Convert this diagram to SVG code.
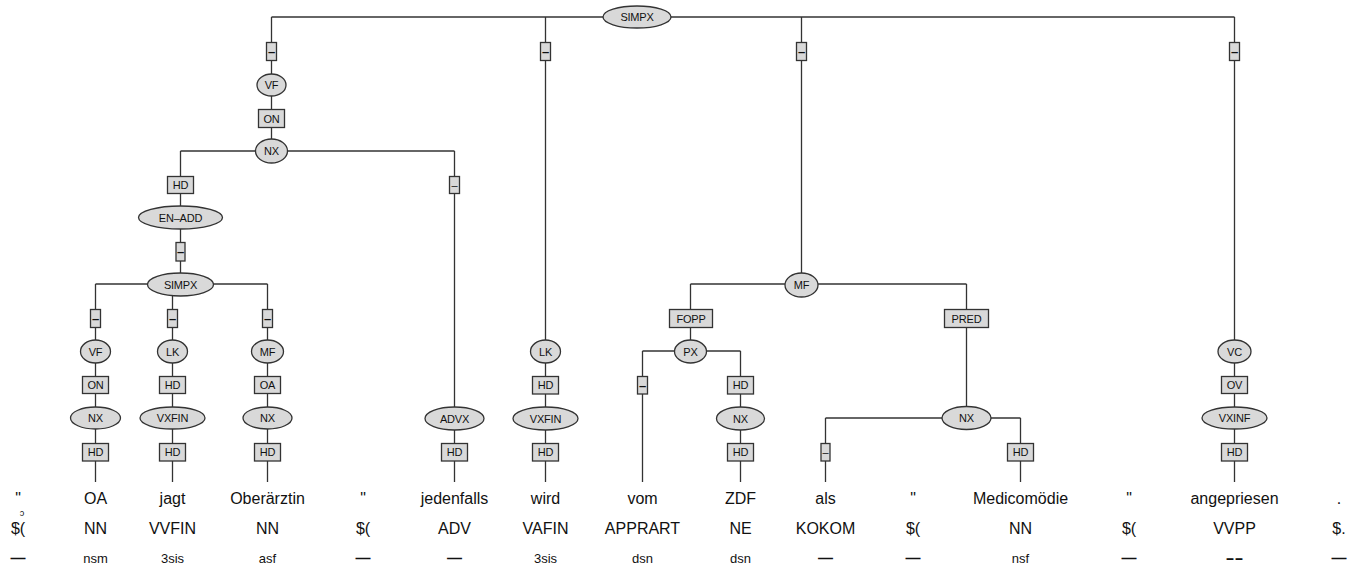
<svg xmlns="http://www.w3.org/2000/svg" width="1358" height="567" viewBox="0 0 1358 567">
<style>
.c{fill:none;stroke:#333;stroke-width:1.3}
.s{fill:#d9d9d9;stroke:#333;stroke-width:1.3}
.t{font-family:"Liberation Sans",Arial,sans-serif;font-size:11px;text-anchor:middle;fill:#111;letter-spacing:-0.2px}
.d{font-family:"Liberation Sans",Arial,sans-serif;font-size:13px;font-weight:bold;text-anchor:middle;fill:#111}
.w{font-family:"Liberation Sans",Arial,sans-serif;font-size:16px;text-anchor:middle;fill:#111}
.m{font-family:"Liberation Sans",Arial,sans-serif;font-size:13px;text-anchor:middle;fill:#111}
.em{font-family:"Liberation Sans",Arial,sans-serif;font-size:15px;font-weight:bold;text-anchor:middle;fill:#111}
</style>
<rect width="1358" height="567" fill="#fff"/>
<g id="connectors">
<path class="c" d="M271.5 17H1234.5"/>
<path class="c" d="M271.5 17V151"/>
<path class="c" d="M180.5 151H454.5"/>
<path class="c" d="M180.5 151V284"/>
<path class="c" d="M95.5 284H267.5"/>
<path class="c" d="M95.5 284V482"/>
<path class="c" d="M172.5 284V482"/>
<path class="c" d="M267.5 284V482"/>
<path class="c" d="M454.5 151V482"/>
<path class="c" d="M545.5 17V482"/>
<path class="c" d="M801.5 17V284"/>
<path class="c" d="M690.5 284H966.5"/>
<path class="c" d="M690.5 284V351"/>
<path class="c" d="M642.5 351H740.5"/>
<path class="c" d="M642.5 351V482"/>
<path class="c" d="M740.5 351V482"/>
<path class="c" d="M966.5 284V418"/>
<path class="c" d="M825.5 418H1020.5"/>
<path class="c" d="M825.5 418V482"/>
<path class="c" d="M1020.5 418V482"/>
<path class="c" d="M1234.5 17V482"/>
</g>
<g id="n_simpx_root"><ellipse class="s" cx="637" cy="17" rx="34" ry="11"/><text class="t" x="637" y="21">SIMPX</text></g>
<g id="e_vf"><rect class="s" x="266.5" y="42.5" width="10" height="18"/><text class="d" x="271.5" y="55.5">–</text></g>
<g id="n_vf"><ellipse class="s" cx="271.5" cy="85" rx="14.5" ry="11"/><text class="t" x="271.5" y="89">VF</text></g>
<g id="e_on"><rect class="s" x="258.5" y="109.5" width="26" height="18"/><text class="t" x="271.5" y="122.5">ON</text></g>
<g id="n_nx1"><ellipse class="s" cx="271.5" cy="151" rx="16" ry="12"/><text class="t" x="271.5" y="155">NX</text></g>
<g id="e_hd1"><rect class="s" x="167.5" y="176.5" width="26" height="17"/><text class="t" x="180.5" y="189">HD</text></g>
<g id="n_enadd"><ellipse class="s" cx="180.5" cy="217.5" rx="42" ry="11.5"/><text class="t" x="180.5" y="221.5">EN–ADD</text></g>
<g id="e_dash2"><rect class="s" x="176" y="242.5" width="9" height="18.5"/><text class="d" x="180.5" y="256">–</text></g>
<g id="n_simpx2"><ellipse class="s" cx="180.5" cy="284.5" rx="33" ry="11.5"/><text class="t" x="180.5" y="288.5">SIMPX</text></g>
<g id="e_d3a"><rect class="s" x="90.5" y="309.5" width="10" height="18"/><text class="d" x="95.5" y="322.5">–</text></g>
<g id="e_d3b"><rect class="s" x="167.5" y="309.5" width="10" height="18"/><text class="d" x="172.5" y="322.5">–</text></g>
<g id="e_d3c"><rect class="s" x="262.5" y="309.5" width="10" height="18"/><text class="d" x="267.5" y="322.5">–</text></g>
<g id="n_vf2"><ellipse class="s" cx="95.5" cy="351.5" rx="15" ry="11.5"/><text class="t" x="95.5" y="355.5">VF</text></g>
<g id="n_lk2"><ellipse class="s" cx="172.5" cy="351.5" rx="15" ry="11.5"/><text class="t" x="172.5" y="355.5">LK</text></g>
<g id="n_mf2"><ellipse class="s" cx="267.5" cy="351.5" rx="16" ry="11.5"/><text class="t" x="267.5" y="355.5">MF</text></g>
<g id="e_on2"><rect class="s" x="82.5" y="376.5" width="26" height="17"/><text class="t" x="95.5" y="389">ON</text></g>
<g id="e_hd2"><rect class="s" x="159.5" y="376.5" width="26" height="17"/><text class="t" x="172.5" y="389">HD</text></g>
<g id="e_oa2"><rect class="s" x="254.5" y="376.5" width="26" height="17"/><text class="t" x="267.5" y="389">OA</text></g>
<g id="n_nx2"><ellipse class="s" cx="95.5" cy="418" rx="25" ry="11"/><text class="t" x="95.5" y="422">NX</text></g>
<g id="n_vxfin2"><ellipse class="s" cx="172.5" cy="418" rx="32.5" ry="11"/><text class="t" x="172.5" y="422">VXFIN</text></g>
<g id="n_nx3"><ellipse class="s" cx="267.5" cy="418" rx="24.5" ry="11"/><text class="t" x="267.5" y="422">NX</text></g>
<g id="e_hd_oa"><rect class="s" x="82.5" y="443.5" width="26" height="17.5"/><text class="t" x="95.5" y="456">HD</text></g>
<g id="e_hd_jagt"><rect class="s" x="159.5" y="443.5" width="26" height="17.5"/><text class="t" x="172.5" y="456">HD</text></g>
<g id="e_hd_ober"><rect class="s" x="254.5" y="443.5" width="26" height="17.5"/><text class="t" x="267.5" y="456">HD</text></g>
<g id="e_dash_adv"><rect class="s" x="449.5" y="176.5" width="10" height="17"/><text class="t" x="454.5" y="189">–</text></g>
<g id="n_advx"><ellipse class="s" cx="454.5" cy="418.5" rx="29.5" ry="11.5"/><text class="t" x="454.5" y="422.5">ADVX</text></g>
<g id="e_hd_jed"><rect class="s" x="441.5" y="443.5" width="26" height="17.5"/><text class="t" x="454.5" y="456">HD</text></g>
<g id="e_wird"><rect class="s" x="540.5" y="42.5" width="10" height="18"/><text class="d" x="545.5" y="55.5">–</text></g>
<g id="n_lk"><ellipse class="s" cx="545.5" cy="351.5" rx="15" ry="11.5"/><text class="t" x="545.5" y="355.5">LK</text></g>
<g id="e_hd_lk"><rect class="s" x="532.5" y="376.5" width="26" height="17.5"/><text class="t" x="545.5" y="389">HD</text></g>
<g id="n_vxfin"><ellipse class="s" cx="545.5" cy="418.5" rx="32.5" ry="11.5"/><text class="t" x="545.5" y="422.5">VXFIN</text></g>
<g id="e_hd_wird"><rect class="s" x="532.5" y="443.5" width="26" height="17.5"/><text class="t" x="545.5" y="456">HD</text></g>
<g id="e_mf"><rect class="s" x="796.5" y="42.5" width="10" height="18"/><text class="d" x="801.5" y="55.5">–</text></g>
<g id="n_mf"><ellipse class="s" cx="801.5" cy="285" rx="16.5" ry="12"/><text class="t" x="801.5" y="289">MF</text></g>
<g id="e_fopp"><rect class="s" x="669.5" y="309.5" width="43" height="18"/><text class="t" x="691" y="322.5">FOPP</text></g>
<g id="n_px"><ellipse class="s" cx="690.5" cy="351.5" rx="16" ry="11.5"/><text class="t" x="690.5" y="355.5">PX</text></g>
<g id="e_dash_vom"><rect class="s" x="637.5" y="376.5" width="10" height="17.5"/><text class="d" x="642.5" y="389.5">–</text></g>
<g id="e_hd_px"><rect class="s" x="727.5" y="376.5" width="26" height="17.5"/><text class="t" x="740.5" y="389">HD</text></g>
<g id="n_nx_zdf"><ellipse class="s" cx="740.5" cy="418.5" rx="24" ry="11.5"/><text class="t" x="740.5" y="422.5">NX</text></g>
<g id="e_hd_zdf"><rect class="s" x="727.5" y="443.5" width="26" height="17.5"/><text class="t" x="740.5" y="456">HD</text></g>
<g id="e_pred"><rect class="s" x="944.5" y="309.5" width="44" height="18"/><text class="t" x="966.5" y="322.5">PRED</text></g>
<g id="n_nx_med"><ellipse class="s" cx="966.5" cy="418" rx="24.5" ry="11.5"/><text class="t" x="966.5" y="422">NX</text></g>
<g id="e_dash_als"><rect class="s" x="821" y="443.5" width="9" height="17.5"/><text class="t" x="825.5" y="456">–</text></g>
<g id="e_hd_med"><rect class="s" x="1007.5" y="443.5" width="26" height="17.5"/><text class="t" x="1020.5" y="456">HD</text></g>
<g id="e_vc"><rect class="s" x="1229.5" y="42.5" width="10" height="18"/><text class="d" x="1234.5" y="55.5">–</text></g>
<g id="n_vc"><ellipse class="s" cx="1234.5" cy="351.5" rx="16.5" ry="11.5"/><text class="t" x="1234.5" y="355.5">VC</text></g>
<g id="e_ov"><rect class="s" x="1221.5" y="376.5" width="26" height="17"/><text class="t" x="1234.5" y="389">OV</text></g>
<g id="n_vxinf"><ellipse class="s" cx="1234.5" cy="418" rx="32.5" ry="11"/><text class="t" x="1234.5" y="422">VXINF</text></g>
<g id="e_hd_ang"><rect class="s" x="1221.5" y="443.5" width="26" height="17.5"/><text class="t" x="1234.5" y="456">HD</text></g>
<g id="words">
<text class="w" x="18" y="504">"</text>
<text class="w" x="95.5" y="504">OA</text>
<text class="w" x="172.5" y="504">jagt</text>
<text class="w" x="267.5" y="504">Oberärztin</text>
<text class="w" x="363" y="504">"</text>
<text class="w" x="454.5" y="504">jedenfalls</text>
<text class="w" x="545.5" y="504">wird</text>
<text class="w" x="642.5" y="504">vom</text>
<text class="w" x="740.5" y="504">ZDF</text>
<text class="w" x="825.5" y="504">als</text>
<text class="w" x="913" y="504">"</text>
<text class="w" x="1020.5" y="504">Medicomödie</text>
<text class="w" x="1129" y="504">"</text>
<text class="w" x="1234.5" y="504">angepriesen</text>
<text class="w" x="1339" y="504">.</text>
</g>
<text x="22" y="515.5" style="font-family:'Liberation Sans',Arial,sans-serif;font-size:9px;text-anchor:middle;fill:#111">ɔ</text>
<g id="pos">
<text class="w" x="18" y="534">$(</text>
<text class="w" x="95.5" y="534">NN</text>
<text class="w" x="172.5" y="534">VVFIN</text>
<text class="w" x="267.5" y="534">NN</text>
<text class="w" x="363" y="534">$(</text>
<text class="w" x="454.5" y="534">ADV</text>
<text class="w" x="545.5" y="534">VAFIN</text>
<text class="w" x="642.5" y="534">APPRART</text>
<text class="w" x="740.5" y="534">NE</text>
<text class="w" x="825.5" y="534">KOKOM</text>
<text class="w" x="913" y="534">$(</text>
<text class="w" x="1020.5" y="534">NN</text>
<text class="w" x="1129" y="534">$(</text>
<text class="w" x="1234.5" y="534">VVPP</text>
<text class="w" x="1339" y="534">$.</text>
</g>
<g id="morph">
<text class="em" x="18" y="563">—</text>
<text class="m" x="95.5" y="563">nsm</text>
<text class="m" x="172.5" y="563">3sis</text>
<text class="m" x="267.5" y="563">asf</text>
<text class="em" x="363" y="563">—</text>
<text class="em" x="454.5" y="563">—</text>
<text class="m" x="545.5" y="563">3sis</text>
<text class="m" x="642.5" y="563">dsn</text>
<text class="m" x="740.5" y="563">dsn</text>
<text class="em" x="825.5" y="563">—</text>
<text class="em" x="913" y="563">—</text>
<text class="m" x="1020.5" y="563">nsf</text>
<text class="em" x="1129" y="563">—</text>
<text class="em" x="1234.5" y="563" textLength="18" lengthAdjust="spacingAndGlyphs">--</text>
<text class="em" x="1339" y="563">—</text>
</g>
</svg>
